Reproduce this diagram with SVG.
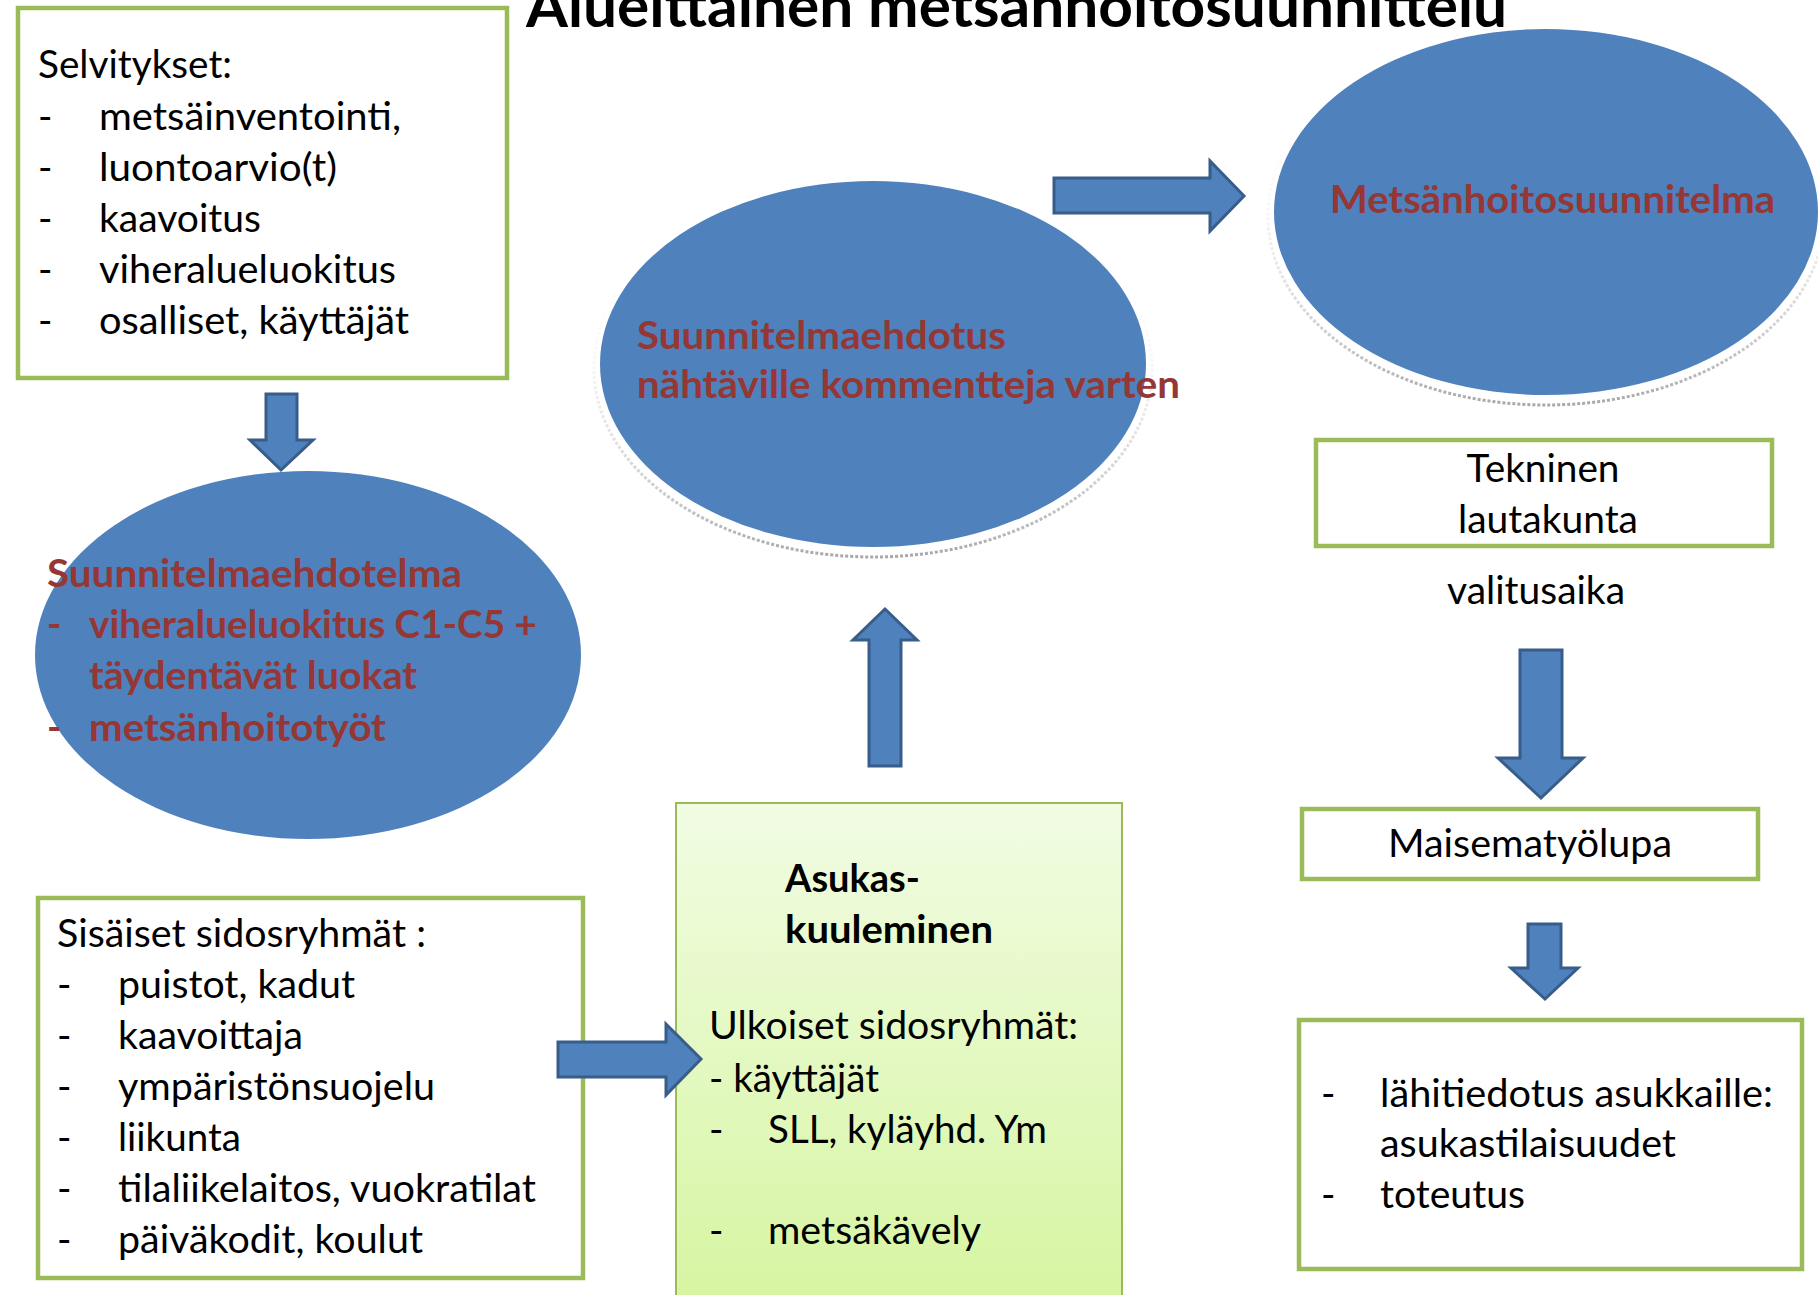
<svg xmlns="http://www.w3.org/2000/svg" width="1818" height="1295" viewBox="0 0 1818 1295">
  <defs>
    <linearGradient id="asukasFill" x1="0" y1="0" x2="0" y2="1">
      <stop offset="0" stop-color="#F1FCE3"/>
      <stop offset="1" stop-color="#D6F5A0"/>
    </linearGradient>
    <linearGradient id="glow" x1="0" y1="0" x2="0" y2="1">
      <stop offset="0" stop-color="#ffffff" stop-opacity="0"/>
      <stop offset="0.45" stop-color="#e8e8e8" stop-opacity="0.3"/>
      <stop offset="1" stop-color="#a8a8a8" stop-opacity="1"/>
    </linearGradient>
  </defs>
  <style>
    text { font-family: Lato, "Open Sans", "Liberation Sans", sans-serif; font-size: 39px; fill: #000; }
    .b { font-weight: bold; }
    .red { font-weight: bold; fill: #953735; }
    .title { font-weight: bold; font-size: 59px; }
    .box { fill: #fff; stroke: #9BBB59; stroke-width: 4.5; }
    .ell { fill: #4F81BD; }
    .ring { fill: none; stroke: url(#glow); stroke-width: 3; stroke-dasharray: 3 2; }
    .halo { fill: #fff; }
    .arrow { fill: #4F81BD; stroke: #385D8A; stroke-width: 3; stroke-linejoin: miter; }
    .mid { text-anchor: middle; }
  </style>

  <g id="title">
    <text class="title" x="526" y="27" textLength="981" lengthAdjust="spacingAndGlyphs">Alueittainen metsänhoitosuunnittelu</text>
  </g>

  <g id="selvitykset">
    <rect class="box" x="18" y="8" width="489" height="370"/>
    <text x="38" y="78" textLength="194" lengthAdjust="spacingAndGlyphs">Selvitykset:</text>
    <text x="38" y="130">-</text><text x="99" y="130" textLength="302" lengthAdjust="spacingAndGlyphs">metsäinventointi,</text>
    <text x="38" y="181">-</text><text x="99" y="181" textLength="238" lengthAdjust="spacingAndGlyphs">luontoarvio(t)</text>
    <text x="38" y="232">-</text><text x="99" y="232" textLength="162" lengthAdjust="spacingAndGlyphs">kaavoitus</text>
    <text x="38" y="283">-</text><text x="99" y="283" textLength="297" lengthAdjust="spacingAndGlyphs">viheralueluokitus</text>
    <text x="38" y="334">-</text><text x="99" y="334" textLength="310" lengthAdjust="spacingAndGlyphs">osalliset, käyttäjät</text>
  </g>

  <g id="suunnitelmaehdotelma">
    <ellipse class="ell" cx="308" cy="655" rx="273" ry="184"/>
    <text class="red" x="47" y="587" textLength="415" lengthAdjust="spacingAndGlyphs">Suunnitelmaehdotelma</text>
    <text class="red" x="47" y="638">-</text><text class="red" x="89" y="638" textLength="448" lengthAdjust="spacingAndGlyphs">viheralueluokitus C1-C5 +</text>
    <text class="red" x="89" y="689" textLength="328" lengthAdjust="spacingAndGlyphs">täydentävät luokat</text>
    <text class="red" x="47" y="741">-</text><text class="red" x="89" y="741" textLength="297" lengthAdjust="spacingAndGlyphs">metsänhoitotyöt</text>
  </g>

  <g id="suunnitelmaehdotus">
    <ellipse class="ring" cx="873" cy="369" rx="279" ry="188"/>
    <ellipse class="halo" cx="873" cy="364" rx="277" ry="187"/>
    <ellipse class="ell" cx="873" cy="364" rx="273" ry="183"/>
    <text class="red" x="637" y="349" textLength="369" lengthAdjust="spacingAndGlyphs">Suunnitelmaehdotus</text>
    <text class="red" x="637" y="398" textLength="543" lengthAdjust="spacingAndGlyphs">nähtäville kommentteja varten</text>
  </g>

  <g id="metsanhoitosuunnitelma">
    <ellipse class="ring" cx="1546" cy="217" rx="278" ry="188"/>
    <ellipse class="halo" cx="1546" cy="212" rx="276" ry="187"/>
    <ellipse class="ell" cx="1546" cy="212" rx="272" ry="183"/>
    <text class="red" x="1330" y="213" textLength="445" lengthAdjust="spacingAndGlyphs">Metsänhoitosuunnitelma</text>
  </g>

  <g id="tekninen-lautakunta">
    <rect class="box" x="1316" y="440" width="456" height="106"/>
    <text class="mid" x="1543" y="482" textLength="153" lengthAdjust="spacingAndGlyphs">Tekninen</text>
    <text class="mid" x="1548" y="533" textLength="180" lengthAdjust="spacingAndGlyphs">lautakunta</text>
  </g>

  <g id="valitusaika">
    <text class="mid" x="1536" y="604" textLength="178" lengthAdjust="spacingAndGlyphs">valitusaika</text>
  </g>

  <g id="maisematyolupa">
    <rect class="box" x="1302" y="809" width="456" height="70"/>
    <text class="mid" x="1530" y="857" textLength="284" lengthAdjust="spacingAndGlyphs">Maisematyölupa</text>
  </g>

  <g id="toteutus">
    <rect class="box" x="1299" y="1020" width="503" height="249"/>
    <text x="1321" y="1107">-</text><text x="1380" y="1107" textLength="393" lengthAdjust="spacingAndGlyphs">lähitiedotus asukkaille:</text>
    <text x="1380" y="1157" textLength="296" lengthAdjust="spacingAndGlyphs">asukastilaisuudet</text>
    <text x="1321" y="1208">-</text><text x="1380" y="1208" textLength="145" lengthAdjust="spacingAndGlyphs">toteutus</text>
  </g>

  <g id="sisaiset-sidosryhmat">
    <rect class="box" x="38" y="898" width="545" height="380"/>
    <text x="57" y="947" textLength="369" lengthAdjust="spacingAndGlyphs">Sisäiset sidosryhmät :</text>
    <text x="57" y="998">-</text><text x="118" y="998" textLength="237" lengthAdjust="spacingAndGlyphs">puistot, kadut</text>
    <text x="57" y="1049">-</text><text x="118" y="1049" textLength="185" lengthAdjust="spacingAndGlyphs">kaavoittaja</text>
    <text x="57" y="1100">-</text><text x="118" y="1100" textLength="317" lengthAdjust="spacingAndGlyphs">ympäristönsuojelu</text>
    <text x="57" y="1151">-</text><text x="118" y="1151" textLength="123" lengthAdjust="spacingAndGlyphs">liikunta</text>
    <text x="57" y="1202">-</text><text x="118" y="1202" textLength="418" lengthAdjust="spacingAndGlyphs">tilaliikelaitos, vuokratilat</text>
    <text x="57" y="1253">-</text><text x="118" y="1253" textLength="305" lengthAdjust="spacingAndGlyphs">päiväkodit, koulut</text>
  </g>

  <g id="asukaskuuleminen">
    <rect x="676" y="803" width="446" height="510" fill="url(#asukasFill)" stroke="#9BBB59" stroke-width="2"/>
    <text class="b" x="785" y="892" textLength="135" lengthAdjust="spacingAndGlyphs">Asukas-</text>
    <text class="b" x="785" y="943" textLength="208" lengthAdjust="spacingAndGlyphs">kuuleminen</text>
    <text x="709" y="1039" textLength="369" lengthAdjust="spacingAndGlyphs">Ulkoiset sidosryhmät:</text>
    <text x="709" y="1092" textLength="170" lengthAdjust="spacingAndGlyphs">- käyttäjät</text>
    <text x="709" y="1143">-</text><text x="768" y="1143" textLength="279" lengthAdjust="spacingAndGlyphs">SLL, kyläyhd. Ym</text>
    <text x="709" y="1244">-</text><text x="768" y="1244" textLength="213" lengthAdjust="spacingAndGlyphs">metsäkävely</text>
  </g>

  <g id="connectors">
    <polygon class="arrow" points="266,394 297,394 297,440 313,440 281,470 250,440 266,440"/>
    <polygon class="arrow" points="1054,178 1210,178 1210,161 1244,196 1210,231 1210,213 1054,213"/>
    <polygon class="arrow" points="869,766 901,766 901,640 917,640 885,609 853,640 869,640"/>
    <polygon class="arrow" points="1520,650 1562,650 1562,758 1583,758 1541,798 1498,758 1520,758"/>
    <polygon class="arrow" points="1528,924 1561,924 1561,968 1578,968 1545,999 1511,968 1528,968"/>
    <polygon class="arrow" points="558,1042 666,1042 666,1024 701,1059 666,1095 666,1077 558,1077"/>
  </g>
</svg>
